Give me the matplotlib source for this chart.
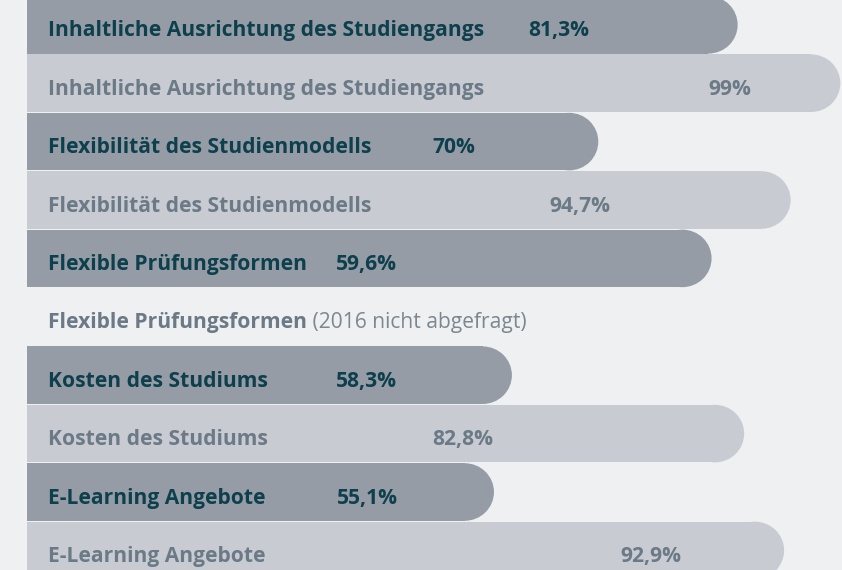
import matplotlib
matplotlib.use("Agg")
import matplotlib.pyplot as plt
from matplotlib.patches import Ellipse

# ---- data ----
labels = [
    "Inhaltliche Ausrichtung des Studiengangs",
    "Inhaltliche Ausrichtung des Studiengangs",
    "Flexibilität des Studienmodells",
    "Flexibilität des Studienmodells",
    "Flexible Prüfungsformen",
    "Flexible Prüfungsformen",
    "Kosten des Studiums",
    "Kosten des Studiums",
    "E-Learning Angebote",
    "E-Learning Angebote",
]
value_text = ["81,3%", "99%", "70%", "94,7%", "59,6%", None,
              "58,3%", "82,8%", "55,1%", "92,9%"]
# bar extent as drawn in the reference (percent of track)
bar_extent = [87.2, 99.8, 70.1, 93.7, 84.0, None, 59.5, 88.0, 57.3, 92.9]
# horizontal position of the value label (percent of track)
value_pos = [61.5, 83.6, 49.7, 64.1, 37.9, None, 37.9, 49.7, 38.0, 72.8]
kind = ["new", "old", "new", "old", "new", "missing", "new", "old", "new", "old"]
missing_note = "(2016 nicht abgefragt)"

# ---- style ----
W, H, DPI = 842, 570, 100
left_px = 27.0
unit_px = (W - left_px) / 100.0       # px per x unit
row_px = 58.4                          # px per row
first_center_px = 24.8

bar_col = {"new": "#959ca6", "old": "#c8cbd2"}
txt_col = {"new": "#0e3f4c", "old": "#6b7a86", "missing": "#6b7a86"}
note_col = "#7d8790"

FONT = "Open Sans"
FS = 15.1

fig = plt.figure(figsize=(W / DPI, H / DPI), dpi=DPI)
fig.patch.set_facecolor("#eef0f2")
ax = fig.add_axes([left_px / W, 0, 1 - left_px / W, 1])
ax.set_facecolor("#f2f3f5")
ax.set_xlim(0, 100)
top = -first_center_px / row_px
bottom = (H - first_center_px) / row_px
ax.set_ylim(bottom, top)
ax.axis("off")

rx = (row_px / 2) / unit_px   # radius in x units
bh = 0.985
ty = 0.06   # slight downward offset of text baseline

for i, lab in enumerate(labels):
    k = kind[i]
    if k != "missing":
        ext = bar_extent[i]
        ax.barh(i, ext - rx, left=0, height=bh, color=bar_col[k], linewidth=0)
        ax.add_patch(Ellipse((ext - rx, i), width=2 * rx * 0.999, height=bh,
                             facecolor=bar_col[k], linewidth=0))
        ax.text(21 / unit_px, i + ty, lab, ha="left", va="center_baseline",
                fontsize=FS, fontweight="bold", family=FONT, color=txt_col[k])
        ax.text(value_pos[i], i + ty, value_text[i], ha="left", va="center_baseline",
                fontsize=FS, fontweight="bold", family=FONT, color=txt_col[k])
    else:
        t1 = ax.text(21 / unit_px, i + ty, lab, ha="left", va="center_baseline",
                     fontsize=FS, fontweight="bold", family=FONT, color=txt_col[k])
        fig.canvas.draw()
        bb = t1.get_window_extent()
        x_end = ax.transData.inverted().transform((bb.x1, bb.y0))[0]
        ax.text(x_end, i + ty, " " + missing_note, ha="left", va="center_baseline",
                fontsize=FS, fontweight="normal", family=FONT, color=note_col)

fig.savefig("out.png", dpi=DPI, facecolor=fig.get_facecolor())
